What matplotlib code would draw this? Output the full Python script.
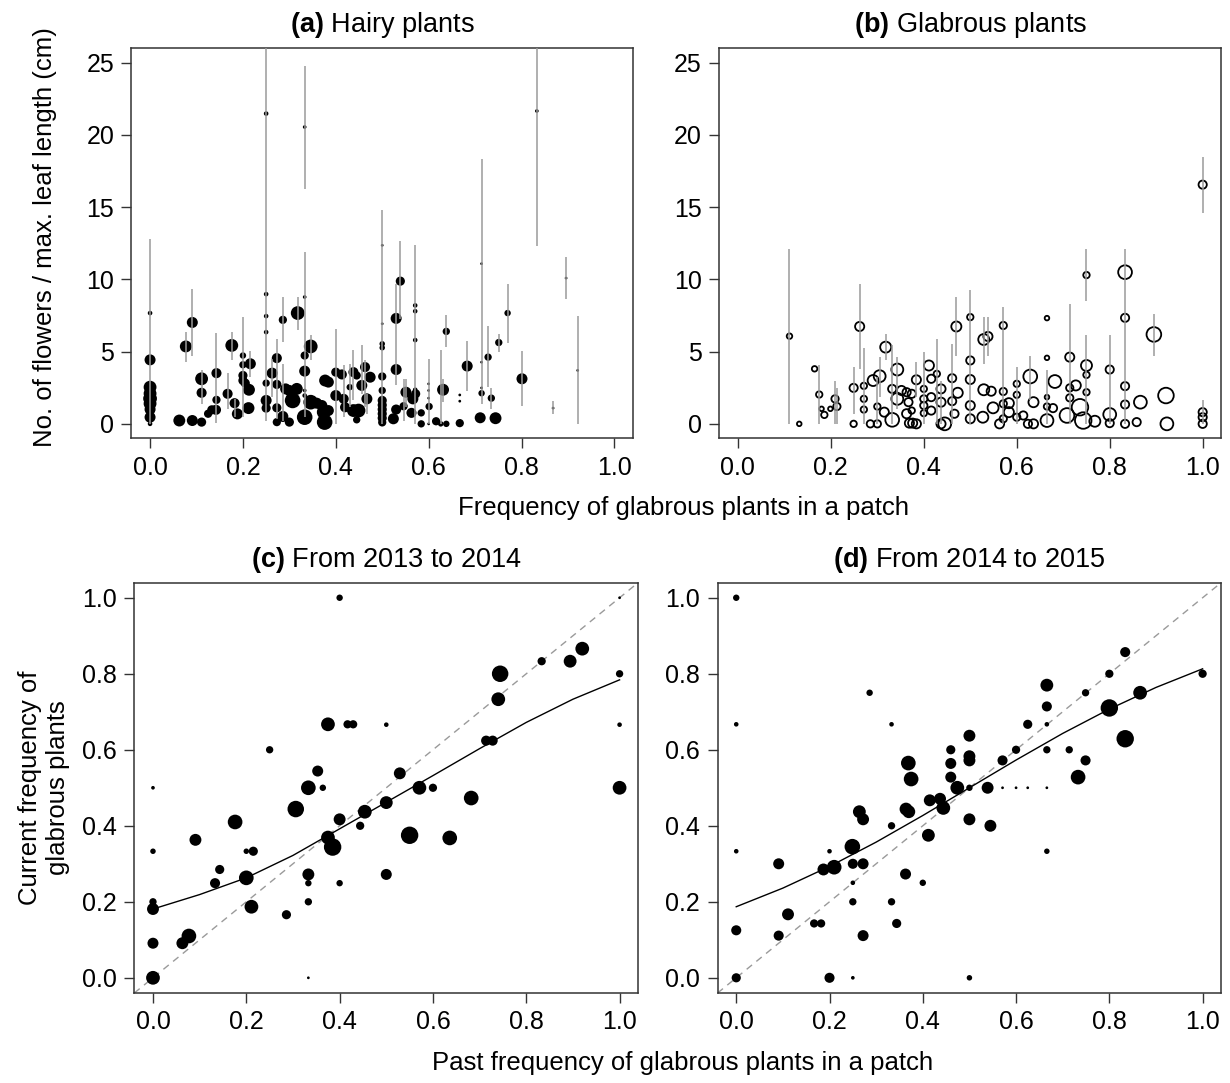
import matplotlib
matplotlib.use('Agg')
from matplotlib import pyplot as plt
from matplotlib.ticker import FormatStrFormatter

# (a) hairy plants: plants (x = patch frequency, y = flowers / leaf length, n = marker weight)
a_x = [0, 0, 0, 0, 0, 0, 0, 0, 0,
       0.063, 0.077, 0.091, 0.091, 0.111, 0.111, 0.111, 0.125, 0.133, 0.142,
       0.143, 0.143, 0.167, 0.176, 0.182, 0.188,
       0.2, 0.2, 0.2, 0.2, 0.205, 0.213, 0.216, 0.212,
       0.25, 0.25, 0.25, 0.25, 0.25, 0.25, 0.25,
       0.263, 0.273, 0.273, 0.273, 0.273, 0.286, 0.286,
       0.292, 0.3, 0.3, 0.307, 0.316, 0.318,
       0.333, 0.333, 0.333, 0.333, 0.333, 0.333, 0.333,
       0.346, 0.346, 0.359, 0.37, 0.374, 0.376, 0.377, 0.384, 0.384,
       0.4, 0.4, 0.413, 0.417, 0.42, 0.43, 0.438, 0.445, 0.438, 0.449, 0.445, 0.456, 0.463, 0.467, 0.474,
       0.5, 0.5, 0.5, 0.5, 0.5, 0.5, 0.5, 0.5, 0.5, 0.5, 0.5, 0.5,
       0.524, 0.53, 0.53, 0.539, 0.53, 0.546, 0.551, 0.563, 0.566, 0.572,
       0.571, 0.571, 0.571, 0.571, 0.584, 0.584,
       0.601, 0.6, 0.6, 0.6, 0.6, 0.616, 0.626, 0.631, 0.638, 0.638,
       0.667, 0.667, 0.667, 0.683, 0.711, 0.714, 0.714, 0.714, 0.714,
       0.728, 0.735, 0.744, 0.751, 0.770, 0.801, 0.833, 0.868, 0.896, 0.921]
a_y = [7.67, 4.43, 2.54, 2.1, 1.75, 1.4, 1.0, 0.46, 0.0,
       0.23, 5.36, 7.02, 0.23, 3.12, 2.15, 0.12, 0.7, 0.97, 0.97,
       3.51, 1.66, 2.08, 5.43, 1.43, 0.69,
       4.73, 4.09, 3.35, 3.0, 2.82, 2.36, 4.16, 1.09,
       21.48, 8.98, 7.46, 6.35, 2.82, 1.62, 1.09,
       3.51, 4.55, 2.73, 1.11, 0.12, 7.2, 0.51,
       2.42, 2.31, 0.12, 1.62, 2.42, 7.67,
       20.55, 8.78, 4.73, 3.65, 2.31, 1.96, 0.46,
       5.36, 1.5, 1.43, 1.27, 0.81, 0.12, 3.0, 2.89, 0.92,
       3.58, 1.96, 3.42, 1.73, 1.15, 2.54, 3.58, 3.35, 0.92, 0.92, 0.28, 2.66, 3.93, 1.73, 3.23,
       3.28, 12.36, 6.93, 5.54, 5.27, 2.31, 1.62, 1.3, 1.0, 0.7, 0.4, 0.1,
       0.35, 3.76, 7.3, 9.88, 0.99, 1.22, 2.19, 0.76, 1.73, 2.08,
       8.2, 7.8, 5.8, 2.36, 0.76, 0.0,
       1.2, 2.77, 2.31, 1.78, 0.0, 0.18, 0.0, 2.36, 6.4, 0.0,
       2.0, 1.57, 0.05, 4.0, 0.42, 11.09, 4.27, 2.49, 2.12,
       4.62, 1.78, 0.39, 5.63, 7.67, 3.12, 21.66, 1.09, 10.09, 3.7]
a_n = [5, 12, 14, 14, 15, 14, 12, 12, 5,
       13, 13, 12, 12, 14, 11, 10, 9, 10, 11,
       11, 9, 11, 14, 11, 12,
       7, 8, 10, 10, 10, 13, 12, 13,
       5, 5, 5, 5, 8, 12, 10,
       12, 11, 10, 10, 9, 9, 12,
       12, 12, 10, 17, 13, 15,
       4, 4, 9, 12, 4, 5, 17,
       15, 16, 12, 12, 15, 17, 13, 12, 12,
       10, 12, 11, 11, 11, 7, 11, 9, 14, 15, 8, 12, 11, 12, 12,
       9, 3, 3, 6, 6, 8, 10, 10, 10, 10, 10, 9,
       12, 12, 12, 10, 11, 9, 12, 11, 12, 10,
       5, 5, 5, 5, 8, 8,
       8, 3, 3, 3, 3, 9, 6, 13, 8, 7,
       3, 3, 9, 12, 12, 3, 3, 3, 7,
       8, 8, 13, 8, 7, 12, 4, 3, 3, 3]

# (a) ranges within patches
a_bar_x = [0, 0.077, 0.091, 0.111, 0.143, 0.167, 0.176, 0.182, 0.2, 0.216,
           0.25, 0.263, 0.273, 0.286, 0.286, 0.318, 0.333, 0.333, 0.346, 0.4,
           0.417, 0.43, 0.438, 0.456, 0.463, 0.467, 0.5, 0.53, 0.539, 0.546,
           0.551, 0.571, 0.6, 0.626, 0.631, 0.638, 0.683, 0.714, 0.728, 0.735,
           0.751, 0.770, 0.801, 0.833, 0.868, 0.896, 0.921]
a_bar_lo = [0, 4.27, 4.73, 1.39, 0.05, 1.04, 4.39, 0.46, 0.46, 3.23,
            0.23, 1.85, 0.35, 5.66, 0.23, 6.47, 16.28, 0.46, 4.39, 0,
            0.46, 1.15, 1.62, 2.08, 1.15, 0.69, 0, 2.66, 7.27, 0.23,
            1.15, 0, 0, 0, 1.5, 5.31, 2.26, 1.39, 2.54, 1.04,
            4.97, 5.61, 1.27, 12.29, 0.69, 8.66, 0]
a_bar_hi = [12.82, 6.35, 9.33, 3.7, 6.28, 3.53, 6.35, 1.73, 7.39, 5.03,
            26.5, 4.5, 5.89, 8.78, 4.16, 8.78, 24.76, 11.89, 6.12, 6.58,
            4.04, 4.16, 5.08, 5.43, 4.39, 2.08, 14.78, 9.7, 12.66, 3.12,
            3.12, 12.36, 4.5, 5.13, 3.12, 7.51, 5.77, 18.36, 6.74, 2.47,
            6.24, 9.7, 5.03, 26.5, 1.55, 11.55, 7.44]

# (b) glabrous plants
b_x = [0.111, 0.132, 0.165, 0.175, 0.18, 0.186, 0.199, 0.209, 0.213, 0.249,
       0.249, 0.262, 0.271, 0.271, 0.271, 0.285, 0.3, 0.3, 0.291, 0.305,
       0.318, 0.315, 0.332, 0.332, 0.343, 0.343, 0.352, 0.363, 0.367, 0.374,
       0.363, 0.369, 0.376, 0.384, 0.374, 0.384, 0.4, 0.4, 0.4, 0.4,
       0.411, 0.416, 0.416, 0.416, 0.428, 0.437, 0.437, 0.437, 0.445,
       0.470, 0.461, 0.461, 0.473, 0.466, 0.5, 0.5, 0.5, 0.5, 0.5,
       0.529, 0.538, 0.529, 0.545, 0.527, 0.549, 0.571, 0.571, 0.571, 0.571,
       0.563, 0.583, 0.583, 0.6, 0.6, 0.6, 0.614, 0.624, 0.636, 0.629,
       0.636, 0.665, 0.665, 0.665, 0.665, 0.665, 0.678, 0.682, 0.708, 0.714,
       0.714, 0.714, 0.727, 0.736, 0.75, 0.75, 0.75, 0.75, 0.743, 0.768,
       0.8, 0.8, 0.8, 0.833, 0.833, 0.833, 0.833, 0.833, 0.858, 0.866,
       0.895, 0.921, 0.923, 1.0, 1.0, 1.0, 1.0]
b_y = [6.07, 0.0, 3.81, 2.03, 1.04, 0.62, 1.04, 1.73, 1.2, 0.0,
       2.49, 6.74, 2.63, 1.73, 0.99, 0.0, 0.0, 1.2, 3.0, 3.3,
       5.31, 0.81, 0.28, 2.42, 3.76, 1.73, 2.31, 2.19, 1.5, 2.08,
       0.7, 0.05, 0.05, 0.0, 0.92, 3.05, 2.42, 1.73, 1.27, 0.74,
       4.04, 3.12, 1.85, 0.92, 3.46, 2.42, 1.5, 0.0, 0.0,
       6.74, 3.16, 1.57, 2.15, 0.7, 7.39, 4.39, 3.07, 1.27, 0.35,
       5.84, 6.05, 2.36, 2.26, 0.46, 1.11, 6.81, 2.24, 1.39, 0.35,
       0.0, 1.43, 0.81, 2.77, 2.01, 0.46, 0.58, 0.0, 0.0, 3.28,
       1.5, 7.32, 4.57, 1.85, 1.2, 0.23, 1.09, 2.93, 0.58, 4.62,
       2.49, 1.8, 2.66, 1.15, 10.3, 4.04, 3.39, 2.19, 0.23, 0.18,
       3.76, 0.65, 0.05, 10.5, 7.34, 2.61, 1.34, 0.0, 0.12, 1.5,
       6.19, 1.96, 0.0, 16.56, 0.81, 0.46, 0.0]
b_n = [6, 5, 6, 7, 5, 7, 5, 8, 8, 7,
       9, 10, 7, 7, 7, 8, 8, 7, 12, 13,
       12, 10, 15, 9, 13, 13, 10, 9, 9, 9,
       10, 10, 10, 10, 7, 10, 7, 8, 8, 7,
       11, 9, 9, 9, 7, 10, 10, 10, 14,
       11, 9, 9, 11, 9, 7, 9, 10, 10, 10,
       12, 10, 12, 10, 12, 12, 8, 8, 8, 8,
       10, 11, 11, 7, 7, 8, 9, 9, 10, 15,
       11, 5, 5, 5, 7, 14, 9, 14, 16, 10,
       8, 8, 11, 18, 7, 12, 7, 7, 18, 12,
       9, 14, 9, 15, 9, 9, 9, 9, 9, 14,
       16, 17, 14, 9, 9, 9, 9]

b_bar_x = [0.111, 0.175, 0.209, 0.213, 0.249, 0.262, 0.271, 0.3, 0.305, 0.318,
           0.332, 0.343, 0.384, 0.4, 0.428, 0.437, 0.461, 0.470, 0.5, 0.529,
           0.538, 0.571, 0.6, 0.629, 0.665, 0.714, 0.75, 0.75, 0.8, 0.833,
           0.895, 1.0, 1.0]
b_bar_lo = [0, 0, 0, 0, 0.69, 3.81, 0, 0, 1.85, 4.39,
            0, 1.0, 1.85, 0, 0, 0, 0, 4.73, 0, 4.16,
            4.73, 0, 0, 1.62, 0, 0, 8.5, 0, 0, 0,
            4.73, 14.6, 0]
b_bar_hi = [12.1, 4.04, 3.0, 2.5, 3.93, 9.7, 5.27, 3.23, 4.62, 6.24,
            5.43, 4.6, 4.27, 4.97, 5.89, 3.0, 5.54, 8.78, 9.24, 7.39,
            7.39, 8.08, 3.93, 4.73, 3.7, 8.31, 12.12, 6.12, 6.12, 12.12,
            7.62, 18.48, 1.62]

# (c) 2013 -> 2014 patch frequencies
c_x = [0.4, 0.375, 0.417, 0.429, 0.25, 0.353, 0.333, 0.364, 0.0, 0.306,
       0.454, 0.4, 0.444, 0.176, 0.091, 0.375, 0.385, 0.0, 0.2, 0.215,
       0.143, 0.333, 0.133, 0.2, 0.333, 0.4, 0.0, 0.0, 0.333, 0.211,
       0.286, 0.0, 0.063, 0.077, 0.0, 0.333,
       1.0, 0.833, 0.894, 0.92, 0.744, 1.0, 0.74, 0.714, 0.728, 0.5,
       1.0, 0.529, 0.571, 0.6, 1.0, 0.5, 0.682, 0.55, 0.636, 0.5]
c_y = [1.0, 0.667, 0.667, 0.667, 0.6, 0.544, 0.5, 0.5, 0.5, 0.444,
       0.437, 0.417, 0.4, 0.41, 0.363, 0.369, 0.344, 0.333, 0.333, 0.333,
       0.285, 0.272, 0.249, 0.263, 0.249, 0.249, 0.2, 0.181, 0.2, 0.187,
       0.166, 0.091, 0.091, 0.11, 0.0, 0.0,
       1.0, 0.833, 0.833, 0.866, 0.8, 0.8, 0.733, 0.624, 0.624, 0.666,
       0.666, 0.538, 0.5, 0.5, 0.5, 0.461, 0.473, 0.375, 0.368, 0.272]
c_n = [7, 15, 9, 9, 8, 12, 16, 7, 4, 18,
       15, 13, 9, 16, 13, 15, 19, 6, 6, 10,
       10, 13, 11, 16, 7, 7, 8, 13, 8, 15,
       10, 12, 13, 16, 15, 3,
       3, 9, 14, 15, 18, 8, 15, 11, 11, 5,
       5, 13, 15, 9, 15, 14, 16, 19, 16, 12]

# (d) 2014 -> 2015 patch frequencies
d_x = [0.0, 0.0, 0.286, 0.333, 0.369, 0.375, 0.46, 0.46, 0.46, 0.264,
       0.272, 0.364, 0.37, 0.415, 0.437, 0.444, 0.333, 0.412, 0.0, 0.2,
       0.249, 0.187, 0.21, 0.091, 0.25, 0.272, 0.363, 0.25, 0.4, 0.25,
       0.333, 0.111, 0.167, 0.182, 0.344, 0.0, 0.091, 0.272, 0.0, 0.2,
       0.25,
       0.834, 0.8, 1.0, 0.749, 0.866, 0.666, 0.666, 0.8, 0.625, 0.666,
       0.5, 0.6, 0.666, 0.714, 0.5, 0.5, 0.571, 0.749, 0.834, 0.733,
       0.474, 0.5, 0.539, 0.571, 0.6, 0.625, 0.666, 0.5, 0.545, 0.666,
       0.5]
d_y = [1.0, 0.667, 0.75, 0.667, 0.565, 0.523, 0.6, 0.564, 0.528, 0.437,
       0.417, 0.444, 0.437, 0.467, 0.471, 0.447, 0.4, 0.375, 0.333, 0.333,
       0.345, 0.285, 0.291, 0.3, 0.3, 0.3, 0.273, 0.25, 0.25, 0.2,
       0.2, 0.167, 0.143, 0.143, 0.143, 0.125, 0.111, 0.111, 0.0, 0.0,
       0.0,
       0.857, 0.8, 0.8, 0.75, 0.75, 0.77, 0.714, 0.71, 0.667, 0.667,
       0.637, 0.6, 0.6, 0.6, 0.583, 0.572, 0.572, 0.572, 0.629, 0.528,
       0.5, 0.5, 0.5, 0.5, 0.5, 0.5, 0.5, 0.417, 0.4, 0.333,
       0.0]
d_n = [7, 5, 7, 5, 16, 16, 10, 12, 12, 14,
       13, 14, 14, 13, 13, 15, 8, 14, 5, 5,
       17, 13, 16, 12, 11, 12, 12, 5, 7, 8,
       8, 13, 9, 9, 10, 11, 11, 12, 10, 11,
       4,
       11, 9, 9, 8, 15, 14, 11, 19, 10, 5,
       13, 9, 8, 8, 13, 13, 11, 11, 19, 16,
       15, 7, 13, 3, 3, 3, 3, 13, 13, 6,
       6]

# fitted curves
fit_x = [0.0, 0.1, 0.2, 0.3, 0.4, 0.5, 0.6, 0.7, 0.8, 0.9, 1.0]
c_fit = [0.181, 0.219, 0.263, 0.322, 0.392, 0.462, 0.532, 0.603, 0.672, 0.733, 0.784]
d_fit = [0.187, 0.236, 0.293, 0.357, 0.427, 0.500, 0.573, 0.643, 0.707, 0.764, 0.813]

FS = 18
FS_LAB = 18.5
FS_TITLE = 19.5
BOX = '#333333'
BAR = '#9a9a9a'

plt.rcParams['font.family'] = ['Liberation Sans', 'DejaVu Sans']
plt.rcParams['mathtext.fontset'] = 'custom'
plt.rcParams['mathtext.rm'] = 'Liberation Sans'
plt.rcParams['mathtext.bf'] = 'Liberation Sans:bold'


def marker_area(n):
    return [(0.66 * v) ** 2 for v in n]


def style_axes(ax, ylim, yticks, yfmt):
    ax.set_xlim(-0.04, 1.04)
    ax.set_ylim(*ylim)
    ax.set_xticks([0, 0.2, 0.4, 0.6, 0.8, 1.0])
    ax.set_yticks(yticks)
    ax.xaxis.set_major_formatter(FormatStrFormatter('%.1f'))
    ax.yaxis.set_major_formatter(FormatStrFormatter(yfmt))
    for sp in ax.spines.values():
        sp.set_color(BOX)
        sp.set_linewidth(1.1)
    ax.tick_params(direction='out', length=7.5, width=1.0, color=BOX,
                   labelsize=FS, pad=5)


def top_panel(ax, x, y, n, bx, lo, hi, title, filled):
    if filled:
        ax.scatter(x, y, s=marker_area(n), c='black', linewidths=0, zorder=2)
    else:
        ax.scatter(x, y, s=marker_area(n), facecolors='none', edgecolors='black',
                   linewidths=1.3, zorder=2)
    ax.vlines(bx, lo, hi, colors=BAR, linewidth=1.1, zorder=3)
    style_axes(ax, (-1.0, 26.0), [0, 5, 10, 15, 20, 25], '%d')
    ax.set_title(title, fontsize=FS_TITLE, pad=12)


def bottom_panel(ax, x, y, n, fit, title):
    ax.axline((0, 0), (1, 1), color='#9a9a9a', linewidth=1.0, linestyle=(0, (5, 4)), zorder=1)
    ax.scatter(x, y, s=marker_area(n), c='black', linewidths=0, zorder=2)
    ax.plot(fit_x, fit, color='black', linewidth=1.0, zorder=3)
    style_axes(ax, (-0.04, 1.04), [0, 0.2, 0.4, 0.6, 0.8, 1.0], '%.1f')
    ax.set_title(title, fontsize=FS_TITLE, pad=11)


fig = plt.figure(figsize=(12.3, 10.83), dpi=100)
ax_a = fig.add_axes([0.1069, 0.5953, 0.4077, 0.3601])
ax_b = fig.add_axes([0.5848, 0.5953, 0.4081, 0.3601])
ax_c = fig.add_axes([0.1092, 0.0831, 0.4097, 0.3790])
ax_d = fig.add_axes([0.5834, 0.0831, 0.4095, 0.3790])

top_panel(ax_a, a_x, a_y, a_n, a_bar_x, a_bar_lo, a_bar_hi,
          r'$\mathbf{(a)}$ Hairy plants', True)
top_panel(ax_b, b_x, b_y, b_n, b_bar_x, b_bar_lo, b_bar_hi,
          r'$\mathbf{(b)}$ Glabrous plants', False)
bottom_panel(ax_c, c_x, c_y, c_n, c_fit, r'$\mathbf{(c)}$ From 2013 to 2014')
bottom_panel(ax_d, d_x, d_y, d_n, d_fit, r'$\mathbf{(d)}$ From 2014 to 2015')

fig.text(45 / 1230, 1 - 237 / 1083, 'No. of flowers / max. leaf length (cm)',
         rotation=90, ha='center', va='center', fontsize=FS_LAB)
fig.text(44 / 1230, 1 - 788 / 1083, 'Current frequency of\nglabrous plants',
         rotation=90, ha='center', va='center', fontsize=FS_LAB, multialignment='center')
fig.text(683 / 1230, 1 - 508 / 1083, 'Frequency of glabrous plants in a patch',
         ha='center', va='center', fontsize=FS_LAB)
fig.text(683 / 1230, 1 - 1063 / 1083, 'Past frequency of glabrous plants in a patch',
         ha='center', va='center', fontsize=FS_LAB)

plt.savefig('out.png', dpi=100)
